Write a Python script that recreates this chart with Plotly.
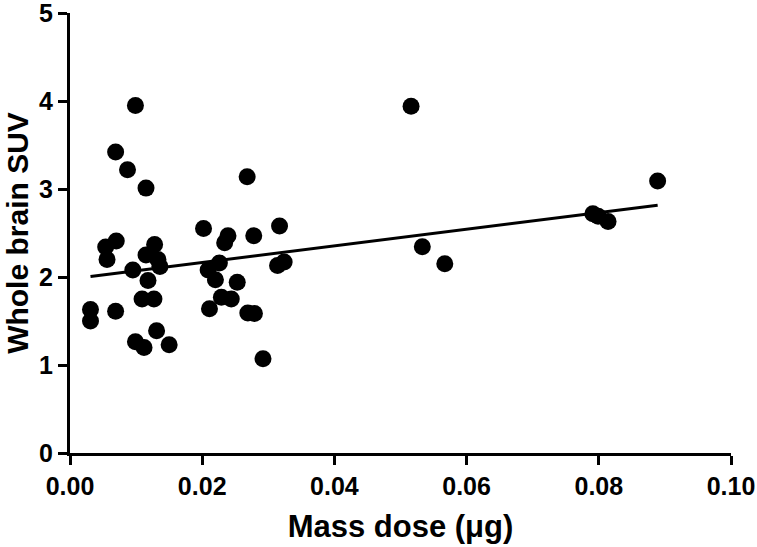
import numpy as np
import plotly.graph_objects as go

# Mass dose (µg) and whole brain SUV
mass_dose = [0.0031, 0.0031, 0.0054, 0.0056, 0.0070, 0.0069, 0.0069, 0.0087,
             0.0095, 0.0099, 0.0099, 0.0112, 0.0115, 0.0115, 0.0118, 0.0109,
             0.0127, 0.0128, 0.0133, 0.0136, 0.0131, 0.0150, 0.0202, 0.0209,
             0.0220, 0.0226, 0.0211, 0.0229, 0.0244, 0.0239, 0.0234, 0.0253,
             0.0268, 0.0278, 0.0269, 0.0279, 0.0292, 0.0317, 0.0314, 0.0324,
             0.0516, 0.0533, 0.0567, 0.0791, 0.0799, 0.0814, 0.0889]
whole_brain_suv = [1.63, 1.50, 2.34, 2.20, 2.41, 3.42, 1.61, 3.22,
                   2.08, 3.95, 1.265, 1.20, 3.01, 2.25, 1.96, 1.75,
                   1.75, 2.37, 2.20, 2.12, 1.39, 1.23, 2.55, 2.08,
                   1.97, 2.16, 1.64, 1.77, 1.75, 2.47, 2.39, 1.94,
                   3.14, 2.47, 1.59, 1.585, 1.07, 2.58, 2.13, 2.17,
                   3.94, 2.345, 2.15, 2.72, 2.69, 2.63, 3.09]

x_ticks = [0.00, 0.02, 0.04, 0.06, 0.08, 0.10]
x_tick_labels = ["0.00", "0.02", "0.04", "0.06", "0.08", "0.10"]
y_ticks = [0, 1, 2, 3, 4, 5]
y_tick_labels = ["0", "1", "2", "3", "4", "5"]

# linear regression line
slope, intercept = np.polyfit(mass_dose, whole_brain_suv, 1)
fit_x = np.array([min(mass_dose), max(mass_dose)])
fit_y = intercept + slope * fit_x

FONT = "Liberation Sans, Arial, sans-serif"

fig = go.Figure()
fig.add_trace(go.Scatter(
    x=fit_x, y=fit_y, mode="lines",
    line=dict(color="black", width=3), showlegend=False, hoverinfo="skip"))
fig.add_trace(go.Scatter(
    x=mass_dose, y=whole_brain_suv, mode="markers",
    marker=dict(color="black", size=17, line=dict(width=0)),
    showlegend=False, cliponaxis=False))

fig.update_layout(
    width=757, height=547,
    margin=dict(l=70, r=26, t=13, b=94),
    paper_bgcolor="white", plot_bgcolor="white",
    font=dict(family=FONT, color="black"),
)
fig.update_xaxes(
    range=[0, 0.1], tickvals=x_ticks, ticktext=x_tick_labels,
    showgrid=False, zeroline=False, automargin=False,
    ticklabeloverflow="allow",
    showline=True, linecolor="black", linewidth=3,
    ticks="outside", ticklen=9, tickwidth=3, tickcolor="black",
    tickfont=dict(family=FONT, size=25, weight="bold", color="black"),
    title=dict(text="Mass dose (μg)", standoff=17,
               font=dict(family=FONT, size=31, weight="bold", color="black")),
)
fig.update_yaxes(
    range=[0, 5], tickvals=y_ticks, ticktext=y_tick_labels,
    showgrid=False, zeroline=False, automargin=False,
    ticklabeloverflow="allow",
    showline=True, linecolor="black", linewidth=3,
    ticks="outside", ticklen=9, tickwidth=3, tickcolor="black",
    tickfont=dict(family=FONT, size=25, weight="bold", color="black"),
    title=dict(text="Whole brain SUV", standoff=2,
               font=dict(family=FONT, size=30, weight="bold", color="black")),
)

fig.write_html("out.html", config={"displayModeBar": False},
               post_script="document.body.style.margin='0';")
